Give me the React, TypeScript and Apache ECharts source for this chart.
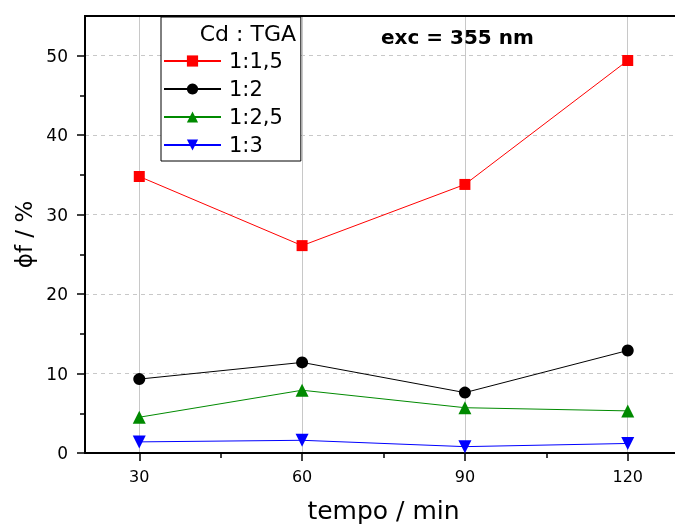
import React, { useEffect, useRef } from "react";
import * as echarts from "echarts";

const xValues = [30, 60, 90, 120];
const xTickLabels = [30, 60, 90, 120];
const xMinorTicks = [45, 75, 105];
const yTickLabels = [0, 10, 20, 30, 40, 50];
const yMinorTicks = [5, 15, 25, 35, 45];
const s115 = [34.8, 26.1, 33.8, 49.4];
const s12 = [9.3, 11.4, 7.6, 12.9];
const s125 = [4.5, 7.9, 5.7, 5.3];
const s13 = [1.4, 1.6, 0.8, 1.2];
const seriesNames = ["1:1,5", "1:2", "1:2,5", "1:3"];
const legendTitle = "Cd : TGA";
const annotation = "exc = 355 nm";

const FONT = "DejaVu Sans, Verdana, sans-serif";
const CHART_W = 690;

export default function App() {
  const ref = useRef<HTMLDivElement>(null);
  useEffect(() => {
    const chart = echarts.init(ref.current!, null, { renderer: "svg" });
    const pair = (ys: number[]) => xValues.map((x, i) => [x, ys[i]]);
    const mk = (name: string, ys: number[], color: string, symbol: string, size: number, rotate = 0) => ({
      name,
      type: "line",
      data: pair(ys),
      symbol,
      symbolSize: size,
      symbolRotate: rotate,
      itemStyle: { color },
      lineStyle: { color, width: 1 },
      xAxisIndex: 0,
      yAxisIndex: 0,
      z: 5,
    });
    const axisLine = { show: true, lineStyle: { color: "#000", width: 2 } };
    chart.setOption({
      animation: false,
      textStyle: { fontFamily: FONT },
      grid: {
        left: 85,
        top: 16,
        bottom: 72,
        right: 8,
        outerBoundsMode: "none",
        containLabel: false,
        show: false,
      },
      xAxis: [
        {
          type: "value",
          min: 20,
          max: 130,
          name: "tempo / min",
          nameLocation: "middle",
          nameGap: 45,
          nameTextStyle: { fontSize: 25, color: "#000", fontFamily: FONT },
          axisLine,
          axisTick: { show: true, length: 8, lineStyle: { color: "#000", width: 1.5 }, customValues: xTickLabels },
          axisLabel: { fontSize: 16, color: "#000", margin: 15, customValues: xTickLabels, fontFamily: FONT },
          splitLine: { show: true, lineStyle: { color: "#c8c8c8", width: 1, type: "solid" } },
        },
        {
          type: "value",
          min: 20,
          max: 130,
          position: "bottom",
          axisLine,
          axisTick: { show: true, length: 5, lineStyle: { color: "#000", width: 1.5 }, customValues: xMinorTicks },
          axisLabel: { show: false, customValues: xMinorTicks },
          splitLine: { show: false },
        },
        {
          type: "value",
          min: 20,
          max: 130,
          position: "top",
          axisLine,
          axisTick: { show: false },
          axisLabel: { show: false },
          splitLine: { show: false },
        },
      ],
      yAxis: [
        {
          type: "value",
          min: 0,
          max: 55,
          name: "\u03d5f / %",
          nameLocation: "middle",
          nameGap: 46,
          nameTextStyle: { fontSize: 23, color: "#000", fontFamily: FONT },
          axisLine,
          axisTick: { show: true, length: 8, lineStyle: { color: "#000", width: 1.5 }, customValues: yTickLabels },
          axisLabel: { fontSize: 17, color: "#000", margin: 17, customValues: yTickLabels, fontFamily: FONT },
          splitLine: { show: true, lineStyle: { color: "#c8c8c8", width: 1, type: [4, 4] } },
        },
        {
          type: "value",
          min: 0,
          max: 55,
          position: "left",
          offset: 0,
          axisLine,
          axisTick: { show: true, length: 5, lineStyle: { color: "#000", width: 1.5 }, customValues: yMinorTicks },
          axisLabel: { show: false, customValues: yMinorTicks },
          splitLine: { show: false },
        },
      ],
      legend: {
        orient: "vertical",
        left: 161,
        top: 17,
        padding: [33, 18, 5, 2],
        itemWidth: 57,
        itemHeight: 14,
        itemGap: 6,
        borderColor: "#000",
        borderWidth: 1,
        backgroundColor: "#fff",
        textStyle: { fontSize: 21, color: "#000", lineHeight: 22, padding: [0, 0, 0, 3], fontFamily: FONT },
        data: seriesNames,
      },
      graphic: [
        {
          type: "text",
          right: CHART_W - 296,
          top: 22,
          z: 100,
          style: { text: legendTitle, font: `22px ${FONT}`, fill: "#000" },
        },
        {
          type: "text",
          left: 381,
          top: 27,
          z: 100,
          style: { text: annotation, font: `bold 20px ${FONT}`, fill: "#000" },
        },
      ],
      series: [
        mk(seriesNames[0], s115, "#ff0000", "rect", 11),
        mk(seriesNames[1], s12, "#000000", "circle", 12),
        mk(seriesNames[2], s125, "#008a00", "triangle", 13),
        mk(seriesNames[3], s13, "#0000ff", "triangle", 13, 180),
      ],
    });
    return () => chart.dispose();
  }, []);
  return (
    <div style={{ position: "fixed", left: 0, top: 0, width: 675, height: 525, overflow: "hidden" }}>
      <div ref={ref} style={{ width: CHART_W, height: 525 }} />
    </div>
  );
}
